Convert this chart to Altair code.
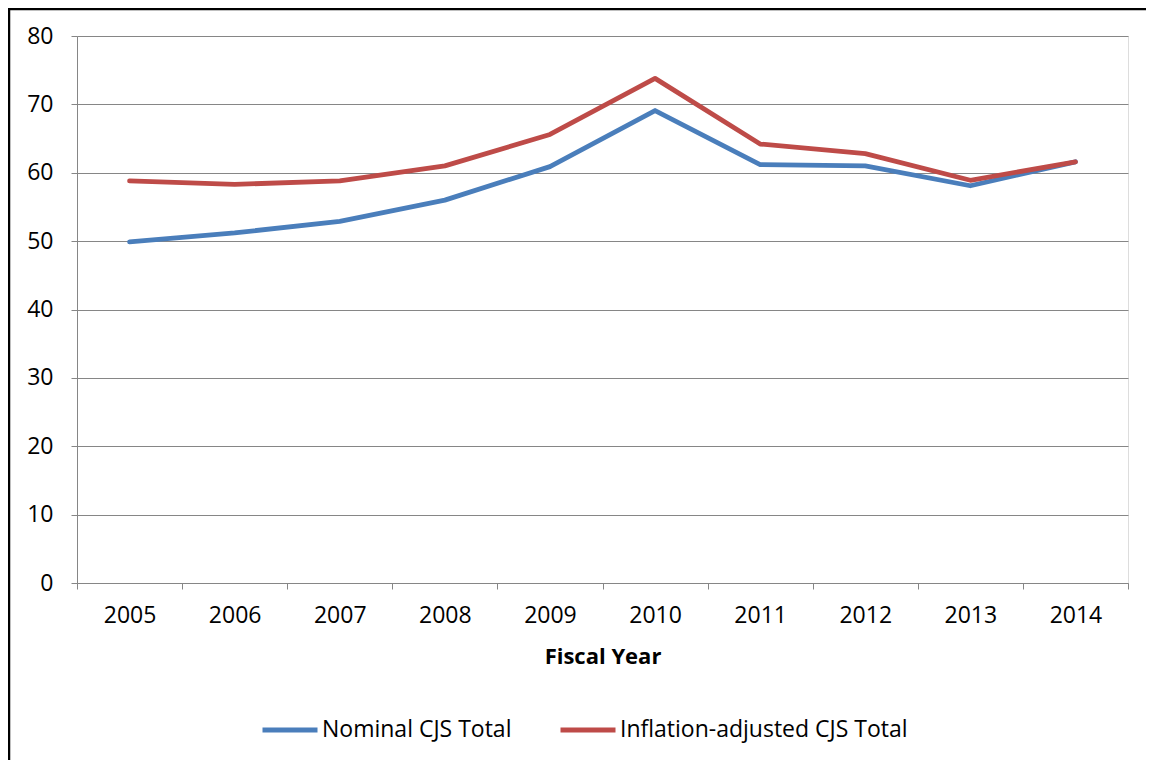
import altair as alt
import pandas as pd

years = [2005, 2006, 2007, 2008, 2009, 2010, 2011, 2012, 2013, 2014]
nominal = [49.9, 51.2, 52.9, 56.0, 60.9, 69.1, 61.2, 61.0, 58.1, 61.6]
inflation = [58.8, 58.3, 58.8, 61.0, 65.6, 73.8, 64.2, 62.8, 58.9, 61.6]
series_names = ["Nominal CJS Total", "Inflation-adjusted CJS Total"]
series_colors = ["#4A7EBB", "#BE4B48"]
x_ticks = [2004.5 + i for i in range(11)]
y_ticks = [0, 10, 20, 30, 40, 50, 60, 70, 80]

rows = []
for y, v in zip(years, nominal):
    rows.append({"year": y, "value": v, "series": series_names[0]})
for y, v in zip(years, inflation):
    rows.append({"year": y, "value": v, "series": series_names[1]})
df = pd.DataFrame(rows)

W, H = 1051, 547
FONT = "Open Sans"
FS = 23
GRAY = "#868686"

lines = alt.Chart(df).mark_line(strokeWidth=4.8, strokeCap="round", strokeJoin="round").encode(
    x=alt.X("year:Q",
            scale=alt.Scale(domain=[2004.5, 2014.5], nice=False, zero=False),
            axis=alt.Axis(values=x_ticks, grid=False, title="Fiscal Year",
                          labelExpr="datum.value > 2014 ? '' : format(datum.value + 0.5, 'd')",
                          labelOffset=W / 20, labelPadding=15, labelFont=FONT, labelFontSize=FS,
                          labelColor="#000000", labelOverlap=False, labelBound=False, labelFlush=False,
                          tickSize=6, tickColor=GRAY, domainColor=GRAY,
                          titleFont=FONT, titleFontSize=FS - 1, titleFontWeight="bold",
                          titleColor="#000000", titlePadding=19)),
    y=alt.Y("value:Q",
            scale=alt.Scale(domain=[0, 80], nice=False),
            axis=alt.Axis(values=y_ticks, title=None, labelFont=FONT, labelFontSize=FS,
                          labelColor="#000000", labelPadding=18, tickSize=6,
                          tickColor=GRAY, domainColor=GRAY, gridColor=GRAY, gridOpacity=1)),
    color=alt.Color("series:N",
                    scale=alt.Scale(domain=series_names, range=series_colors),
                    legend=alt.Legend(title=None, orient="none", direction="horizontal",
                                      legendX=183, legendY=664, padding=0,
                                      symbolType="M-1,0H1", symbolSize=3025,
                                      symbolStrokeWidth=4.8, labelOffset=2,
                                      columnPadding=38, labelFont=FONT, labelFontSize=FS,
                                      labelColor="#000000", labelLimit=400)),
    order=alt.Order("year:Q"),
)

frame_left = alt.Chart(pd.DataFrame({"k": [0]})).mark_rule(color="#000000", strokeWidth=2.5).encode(
    x=alt.value(-68), x2=alt.value(-68), y=alt.value(-28), y2=alt.value(730))
frame_top = alt.Chart(pd.DataFrame({"k": [0]})).mark_rule(color="#000000", strokeWidth=2.5).encode(
    x=alt.value(-69), x2=alt.value(1069), y=alt.value(-27), y2=alt.value(-27))

chart = alt.layer(lines, frame_left, frame_top).properties(
    width=W, height=H,
    autosize=alt.AutoSizeParams(type="none"),
    padding={"left": 69, "top": 28, "right": 18, "bottom": 177},
).configure_view(stroke=None).configure(background="#ffffff")

chart.save("out.html", embed_options={"renderer": "svg", "actions": False})
